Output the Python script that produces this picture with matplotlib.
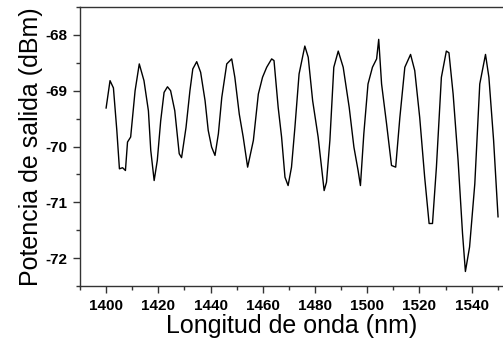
import matplotlib
matplotlib.use("Agg")
import matplotlib.pyplot as plt
from matplotlib.ticker import MultipleLocator

plt.rcParams['font.family'] = ['Liberation Sans', 'DejaVu Sans']
plt.rcParams['axes.unicode_minus'] = False

# wavelength (nm) and output power (dBm)
wavelength = [
    1400.0, 1401.5, 1402.8, 1404.1, 1405.1, 1406.3, 1407.4, 1408.2, 1409.4, 1411.1,
    1412.7, 1414.5, 1416.2, 1417.1, 1418.4, 1419.6, 1420.9, 1422.2, 1423.5, 1424.7,
    1426.3, 1428.0, 1428.9, 1430.6, 1432.1, 1433.2, 1434.7, 1436.2, 1437.9, 1439.1,
    1440.4, 1441.7, 1443.0, 1444.3, 1446.2, 1448.1, 1449.3, 1451.0, 1452.5, 1454.2,
    1456.4, 1458.3, 1459.9, 1461.5, 1463.4, 1464.3, 1465.9, 1467.2, 1468.5, 1469.7,
    1471.0, 1472.3, 1473.9, 1476.1, 1477.4, 1479.1, 1481.2, 1482.5, 1483.5, 1484.4,
    1485.7, 1487.2, 1488.9, 1490.8, 1493.1, 1494.9, 1496.5, 1497.4, 1498.7, 1500.3,
    1502.0, 1503.6, 1504.4, 1505.5, 1507.4, 1509.3, 1510.9, 1512.5, 1514.4, 1516.6,
    1518.2, 1520.1, 1522.0, 1523.7, 1525.0, 1526.5, 1528.4, 1530.3, 1531.3, 1532.9,
    1534.8, 1536.5, 1537.6, 1539.2, 1541.2, 1543.1, 1545.3, 1546.6, 1548.4, 1550.1,
]
power = [
    -69.31, -68.82, -68.95, -69.71, -70.40, -70.38, -70.43, -69.92, -69.83, -69.00,
    -68.52, -68.82, -69.36, -70.07, -70.61, -70.25, -69.54, -69.03, -68.93, -69.00,
    -69.36, -70.13, -70.20, -69.66, -69.00, -68.61, -68.48, -68.67, -69.18, -69.71,
    -70.01, -70.16, -69.77, -69.12, -68.52, -68.43, -68.76, -69.42, -69.83, -70.37,
    -69.89, -69.06, -68.76, -68.58, -68.43, -68.46, -69.30, -69.83, -70.55, -70.70,
    -70.37, -69.66, -68.70, -68.20, -68.40, -69.18, -69.83, -70.37, -70.79, -70.64,
    -69.89, -68.58, -68.29, -68.58, -69.30, -70.01, -70.43, -70.70, -69.77, -68.88,
    -68.58, -68.43, -68.08, -68.88, -69.59, -70.34, -70.37, -69.48, -68.58, -68.35,
    -68.64, -69.48, -70.55, -71.38, -71.38, -70.37, -68.76, -68.29, -68.32, -69.06,
    -70.25, -71.56, -72.24, -71.80, -70.67, -68.88, -68.35, -68.76, -69.89, -71.26,
]

fig = plt.figure(figsize=(5.03, 3.43), dpi=100)
ax = fig.add_axes([80 / 503, 1 - 286 / 343, 1 - 80 / 503, (286 - 7) / 343])

ax.plot(wavelength, power, color="black", linewidth=1.0)

ax.set_xlim(1390, 1552)
ax.set_ylim(-72.5, -67.5)
ax.xaxis.set_major_locator(MultipleLocator(20))
ax.xaxis.set_minor_locator(MultipleLocator(10))
ax.yaxis.set_major_locator(MultipleLocator(1))
ax.yaxis.set_minor_locator(MultipleLocator(0.5))

for s in ax.spines.values():
    s.set_color("#333333")
    s.set_linewidth(1.0)
ax.spines["right"].set_visible(False)

ax.tick_params(which="major", direction="out", length=5, width=1, color="#333333",
               labelsize=11, pad=4)
ax.tick_params(which="minor", direction="out", length=3, width=1, color="#333333")
for lab in ax.get_xticklabels() + ax.get_yticklabels():
    lab.set_fontweight("bold")

ax.set_xlabel("Longitud de onda (nm)", fontsize=18, labelpad=1)
ax.set_ylabel("Potencia de salida (dBm)", fontsize=18, labelpad=2)

fig.savefig("out.png", dpi=100)
